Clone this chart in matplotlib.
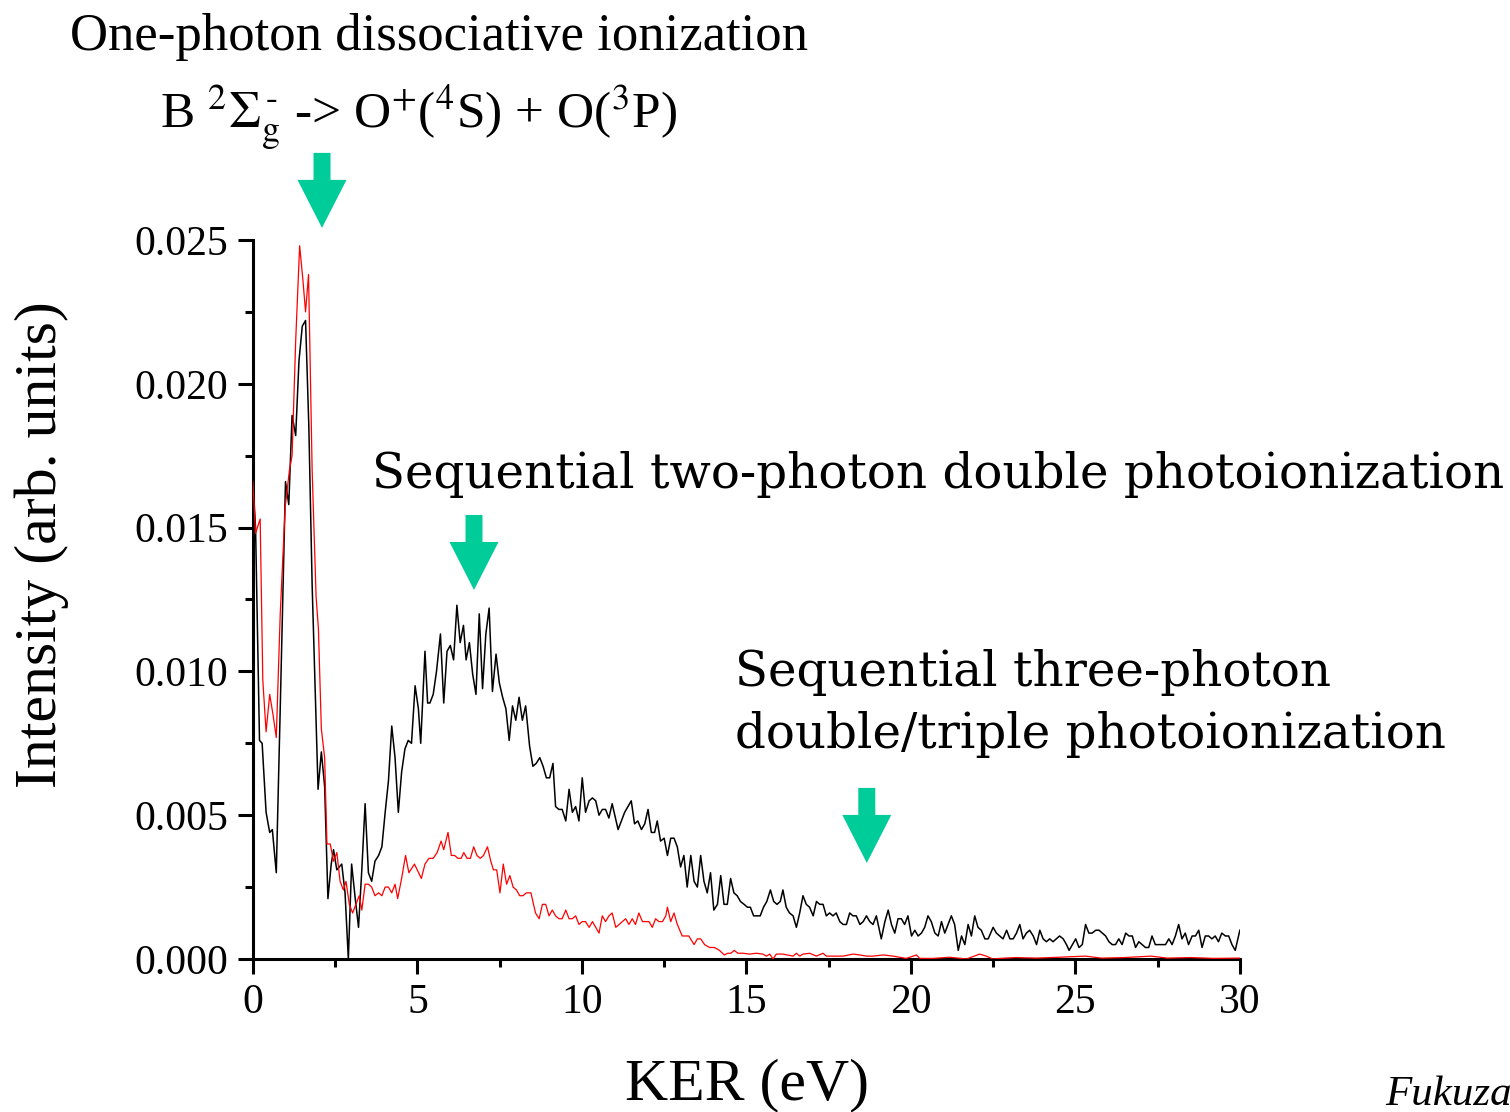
import matplotlib
matplotlib.use('Agg')
import matplotlib.pyplot as plt
import matplotlib.transforms as mtransforms

plt.rcParams['font.family'] = ['Liberation Serif', 'DejaVu Serif']
plt.rcParams['mathtext.fontset'] = 'stix'

# black curve (KER in eV, intensity)
ker_black = [0.00, 0.08, 0.20, 0.28, 0.40, 0.51, 0.59, 0.71, 0.83, 0.99, 1.09, 1.19, 1.30, 1.40, 1.50,
             1.60, 1.70, 1.80, 1.90, 1.98, 2.08, 2.18, 2.28, 2.38, 2.45, 2.55, 2.70, 2.80, 2.90, 3.00,
             3.11, 3.21, 3.31, 3.41, 3.51, 3.61, 3.71, 3.82, 3.92, 4.02, 4.12, 4.22, 4.32, 4.42, 4.52,
             4.62, 4.72, 4.82, 4.93, 5.03, 5.10, 5.23, 5.31, 5.38, 5.48, 5.58, 5.70, 5.80, 5.90, 6.00,
             6.10, 6.20, 6.30, 6.40, 6.48, 6.58, 6.68, 6.78, 6.88, 6.98, 7.08, 7.18, 7.28, 7.39, 7.49,
             7.59, 7.69, 7.79, 7.89, 7.99, 8.09, 8.19, 8.29, 8.41, 8.51, 8.61, 8.72, 8.82, 8.92, 9.02,
             9.12, 9.20, 9.30, 9.40, 9.51, 9.61, 9.71, 9.81, 9.91, 10.01, 10.11, 10.22, 10.32, 10.42, 10.52,
             10.62, 10.72, 10.82, 10.92, 11.10, 11.30, 11.50, 11.60, 11.70, 11.81, 11.91, 12.01, 12.11, 12.21, 12.29,
             12.39, 12.50, 12.60, 12.70, 12.80, 12.90, 13.00, 13.10, 13.20, 13.31, 13.41, 13.51, 13.61, 13.71, 13.81,
             13.91, 14.01, 14.12, 14.22, 14.32, 14.42, 14.52, 14.62, 14.72, 14.82, 14.93, 15.03, 15.12, 15.22, 15.32,
             15.42, 15.52, 15.62, 15.73, 15.83, 15.93, 16.03, 16.11, 16.21, 16.31, 16.42, 16.52, 16.62, 16.72, 16.82,
             16.92, 17.03, 17.13, 17.23, 17.33, 17.43, 17.53, 17.63, 17.73, 17.84, 17.94, 18.04, 18.14, 18.24, 18.34,
             18.45, 18.55, 18.65, 18.75, 18.85, 18.95, 19.10, 19.21, 19.31, 19.41, 19.51, 19.61, 19.71, 19.81, 19.91,
             20.02, 20.12, 20.22, 20.32, 20.42, 20.52, 20.62, 20.73, 20.83, 20.93, 21.03, 21.13, 21.23, 21.33, 21.44,
             21.54, 21.64, 21.74, 21.84, 21.94, 22.04, 22.14, 22.25, 22.35, 22.50, 22.60, 22.70, 22.80, 22.91, 23.01,
             23.11, 23.21, 23.31, 23.41, 23.51, 23.61, 23.72, 23.82, 23.92, 24.02, 24.12, 24.22, 24.32, 24.42, 24.52,
             24.63, 24.73, 24.81, 24.91, 25.01, 25.11, 25.21, 25.31, 25.41, 25.51, 25.62, 25.72, 25.82, 25.92, 26.02,
             26.12, 26.22, 26.32, 26.42, 26.53, 26.63, 26.73, 26.83, 26.93, 27.03, 27.13, 27.23, 27.33, 27.43, 27.54,
             27.64, 27.74, 27.84, 27.94, 28.04, 28.14, 28.24, 28.34, 28.44, 28.55, 28.65, 28.75, 28.85, 28.95, 29.05,
             29.15, 29.25, 29.35, 29.45, 29.56, 29.66, 29.76, 29.86, 30.00]
int_black = [0.0166, 0.0150, 0.0076, 0.0075, 0.0051, 0.0044, 0.0045, 0.0030, 0.0087, 0.0166, 0.0158, 0.0189, 0.0182, 0.0208, 0.0220,
             0.0222, 0.0185, 0.0130, 0.0090, 0.0059, 0.0072, 0.0060, 0.0021, 0.0033, 0.0038, 0.0031, 0.0033, 0.0023, 0.0000, 0.0033,
             0.0021, 0.0011, 0.0031, 0.0054, 0.0030, 0.0027, 0.0034, 0.0036, 0.0039, 0.0051, 0.0062, 0.0081, 0.0070, 0.0051, 0.0065,
             0.0073, 0.0076, 0.0075, 0.0095, 0.0087, 0.0075, 0.0107, 0.0089, 0.0089, 0.0092, 0.0100, 0.0113, 0.0089, 0.0107, 0.0109,
             0.0104, 0.0123, 0.0110, 0.0116, 0.0104, 0.0110, 0.0099, 0.0092, 0.0120, 0.0094, 0.0113, 0.0122, 0.0093, 0.0106, 0.0096,
             0.0091, 0.0087, 0.0076, 0.0088, 0.0083, 0.0091, 0.0083, 0.0088, 0.0074, 0.0067, 0.0068, 0.0070, 0.0067, 0.0063, 0.0063,
             0.0068, 0.0053, 0.0052, 0.0052, 0.0048, 0.0059, 0.0051, 0.0053, 0.0048, 0.0063, 0.0051, 0.0055, 0.0056, 0.0055, 0.0050,
             0.0052, 0.0052, 0.0049, 0.0054, 0.0045, 0.0051, 0.0055, 0.0047, 0.0048, 0.0045, 0.0047, 0.0052, 0.0044, 0.0044, 0.0048,
             0.0041, 0.0042, 0.0036, 0.0042, 0.0042, 0.0039, 0.0032, 0.0036, 0.0025, 0.0036, 0.0027, 0.0025, 0.0036, 0.0027, 0.0023,
             0.0030, 0.0017, 0.0019, 0.0029, 0.0019, 0.0019, 0.0028, 0.0023, 0.0022, 0.0020, 0.0019, 0.0018, 0.0018, 0.0015, 0.0015,
             0.0015, 0.0018, 0.0020, 0.0024, 0.0020, 0.0019, 0.0020, 0.0024, 0.0018, 0.0016, 0.0015, 0.0011, 0.0016, 0.0022, 0.0019,
             0.0018, 0.0015, 0.0020, 0.0019, 0.0019, 0.0015, 0.0016, 0.0015, 0.0016, 0.0013, 0.0012, 0.0012, 0.0016, 0.0015, 0.0015,
             0.0012, 0.0013, 0.0015, 0.0013, 0.0012, 0.0015, 0.0007, 0.0013, 0.0017, 0.0012, 0.0009, 0.0014, 0.0014, 0.0012, 0.0015,
             0.0008, 0.0010, 0.0008, 0.0009, 0.0011, 0.0015, 0.0013, 0.0009, 0.0008, 0.0013, 0.0009, 0.0012, 0.0015, 0.0012, 0.0003,
             0.0008, 0.0005, 0.0012, 0.0008, 0.0015, 0.0011, 0.0010, 0.0007, 0.0007, 0.0011, 0.0009, 0.0008, 0.0007, 0.0010, 0.0007,
             0.0007, 0.0009, 0.0012, 0.0007, 0.0009, 0.0010, 0.0008, 0.0005, 0.0010, 0.0007, 0.0006, 0.0007, 0.0006, 0.0007, 0.0008,
             0.0007, 0.0005, 0.0003, 0.0005, 0.0007, 0.0004, 0.0005, 0.0012, 0.0009, 0.0009, 0.0010, 0.0010, 0.0009, 0.0008, 0.0006,
             0.0005, 0.0005, 0.0007, 0.0005, 0.0009, 0.0008, 0.0008, 0.0004, 0.0006, 0.0005, 0.0004, 0.0004, 0.0008, 0.0005, 0.0005,
             0.0005, 0.0005, 0.0007, 0.0005, 0.0008, 0.0012, 0.0007, 0.0009, 0.0005, 0.0008, 0.0008, 0.0010, 0.0004, 0.0008, 0.0008,
             0.0007, 0.0008, 0.0006, 0.0009, 0.0008, 0.0008, 0.0005, 0.0003, 0.0010]

# red curve
ker_red = [0.00, 0.08, 0.22, 0.30, 0.40, 0.51, 0.61, 0.71, 0.83, 0.98, 1.11, 1.19, 1.30, 1.42, 1.52,
           1.60, 1.69, 1.80, 1.92, 1.99, 2.08, 2.18, 2.25, 2.35, 2.45, 2.55, 2.65, 2.75, 2.83, 2.93,
           3.03, 3.13, 3.23, 3.31, 3.41, 3.51, 3.61, 3.71, 3.82, 3.92, 4.02, 4.12, 4.22, 4.32, 4.40,
           4.52, 4.64, 4.74, 4.91, 5.12, 5.23, 5.35, 5.48, 5.60, 5.72, 5.80, 5.93, 6.03, 6.13, 6.23,
           6.33, 6.41, 6.51, 6.61, 6.71, 6.81, 6.91, 7.01, 7.13, 7.23, 7.31, 7.41, 7.51, 7.61, 7.71,
           7.81, 7.91, 8.01, 8.11, 8.21, 8.31, 8.45, 8.59, 8.70, 8.80, 8.90, 9.00, 9.10, 9.20, 9.30,
           9.40, 9.51, 9.61, 9.71, 9.81, 9.91, 10.01, 10.11, 10.22, 10.32, 10.42, 10.52, 10.62, 10.72, 10.82,
           10.92, 11.03, 11.13, 11.23, 11.33, 11.43, 11.53, 11.63, 11.73, 11.84, 11.94, 12.04, 12.14, 12.24, 12.34,
           12.45, 12.55, 12.60, 12.70, 12.80, 12.90, 13.05, 13.15, 13.25, 13.41, 13.51, 13.61, 13.73, 13.88, 14.03,
           14.18, 14.33, 14.43, 14.53, 14.63, 14.74, 14.89, 15.10, 15.30, 15.50, 15.61, 15.71, 15.81, 15.91, 16.11,
           16.42, 16.52, 16.62, 16.72, 16.92, 17.13, 17.33, 17.43, 17.63, 17.94, 18.24, 18.45, 18.65, 18.85, 19.16,
           19.46, 19.66, 19.86, 20.17, 20.27, 20.67, 21.18, 21.69, 22.09, 22.29, 22.49, 22.70, 23.20, 23.80, 24.50,
           25.30, 25.80, 26.50, 27.30, 27.80, 28.50, 29.20, 30.00]
int_red = [0.0166, 0.0148, 0.0153, 0.0097, 0.0079, 0.0092, 0.0085, 0.0077, 0.0120, 0.0157, 0.0170, 0.0175, 0.0215, 0.0248, 0.0236,
           0.0225, 0.0238, 0.0170, 0.0126, 0.0115, 0.0080, 0.0070, 0.0040, 0.0040, 0.0034, 0.0037, 0.0027, 0.0024, 0.0027, 0.0019,
           0.0016, 0.0019, 0.0022, 0.0017, 0.0026, 0.0026, 0.0025, 0.0022, 0.0023, 0.0022, 0.0025, 0.0025, 0.0023, 0.0026, 0.0021,
           0.0028, 0.0036, 0.0030, 0.0033, 0.0028, 0.0033, 0.0035, 0.0035, 0.0037, 0.0041, 0.0038, 0.0044, 0.0036, 0.0036, 0.0035,
           0.0035, 0.0037, 0.0035, 0.0035, 0.0039, 0.0036, 0.0035, 0.0036, 0.0039, 0.0034, 0.0031, 0.0031, 0.0023, 0.0033, 0.0026,
           0.0029, 0.0025, 0.0024, 0.0022, 0.0022, 0.0023, 0.0023, 0.0016, 0.0014, 0.0019, 0.0019, 0.0015, 0.0017, 0.0015, 0.0014,
           0.0014, 0.0017, 0.0014, 0.0014, 0.0015, 0.0012, 0.0013, 0.0013, 0.0011, 0.0013, 0.0011, 0.0009, 0.0015, 0.0013, 0.0015,
           0.0016, 0.0011, 0.0012, 0.0013, 0.0014, 0.0012, 0.0014, 0.0012, 0.0016, 0.0013, 0.0013, 0.0013, 0.0011, 0.0014, 0.0013,
           0.0013, 0.0015, 0.0018, 0.0013, 0.0016, 0.0012, 0.0008, 0.0008, 0.0008, 0.0005, 0.0007, 0.0007, 0.0005, 0.0004, 0.0004,
           0.0003, 0.00014, 0.0002, 0.0002, 0.0003, 0.0002, 0.0002, 0.00017, 0.0002, 0.00017, 0.0001, 0.00017, 0.0, 0.00017, 0.00017,
           0.0001, 0.0002, 0.0001, 0.00017, 0.0002, 0.0001, 0.0002, 0.0001, 0.0001, 0.0001, 0.00017, 0.00014, 0.0001, 0.0001, 0.00014,
           0.0001, 0.00006, 0.00002, 0.00014, 0.00002, 0.00002, 0.00006, 0.0, 0.00017, 0.0001, 0.0, 0.00002, 0.00005, 0.00003, 0.00006,
           0.0001, 0.00003, 0.00005, 0.0001, 0.00003, 0.00005, 0.00002, 0.00003]

# green arrows: tip position (KER, intensity)
arrow_tips = [(2.10, 0.02542), (6.72, 0.01283), (18.66, 0.00334)]
arrow_color = '#00cc99'

fig = plt.figure(figsize=(15.1, 11.12), dpi=100)
ax = fig.add_axes([0.1675, 0.1376, 0.6536, 0.6466])

ax.plot(ker_black, int_black, color='black', lw=1.1, zorder=2)
ax.plot(ker_red, int_red, color='#ff0000', lw=0.9, zorder=3)

ax.set_xlim(0, 30)
ax.set_ylim(0, 0.025)
ax.set_xticks([0, 5, 10, 15, 20, 25, 30])
ax.set_xticks([2.5, 7.5, 12.5, 17.5, 22.5, 27.5], minor=True)
ax.set_yticks([0, 0.005, 0.010, 0.015, 0.020, 0.025])
ax.set_yticks([0.0025, 0.0075, 0.0125, 0.0175, 0.0225], minor=True)
ax.set_yticklabels(['0.000', '0.005', '0.010', '0.015', '0.020', '0.025'])
ax.tick_params(which='major', direction='out', length=11, width=2.2, labelsize=30, pad=7)
ax.tick_params(which='minor', direction='out', length=6, width=2.2)
for s in ['top', 'right']:
    ax.spines[s].set_visible(False)
for s in ['left', 'bottom']:
    ax.spines[s].set_linewidth(2.2)

# arrow shape in pixels, tip at origin
shape = [(0, 0), (-24.5, 48), (-8.5, 48), (-8.5, 75), (8.5, 75), (8.5, 48), (24.5, 48)]
for tx, ty in arrow_tips:
    tr = mtransforms.Affine2D().scale(1 / 100.0) + fig.dpi_scale_trans + mtransforms.ScaledTranslation(tx, ty, ax.transData)
    ax.fill([p[0] for p in shape], [p[1] for p in shape], color=arrow_color, lw=0,
            transform=tr, clip_on=False, zorder=5)

state_label = r'B $^{2}\Sigma_{\mathrm{g}}^{\,' + '\u2010' + r'}$ -> O$^{+}$($^{4}$S) + O($^{3}$P)'

fig.text(70 / 1510, 1 - 50 / 1112, 'One-photon dissociative ionization', fontsize=38, va='baseline', ha='left')
fig.text(160 / 1510, 1 - 128 / 1112, state_label, fontsize=37, va='baseline', ha='left')
fig.text(372 / 1510, 1 - 488 / 1112, 'Sequential two-photon double photoionization',
         fontsize=34.8, family='DejaVu Serif', va='baseline', ha='left')
fig.text(735 / 1510, 1 - 686 / 1112, 'Sequential three-photon',
         fontsize=34.8, family='DejaVu Serif', va='baseline', ha='left')
fig.text(735 / 1510, 1 - 748 / 1112, 'double/triple photoionization',
         fontsize=34.8, family='DejaVu Serif', va='baseline', ha='left')
fig.text(1385 / 1510, 1 - 1105 / 1112, 'Fukuzawa', fontsize=31, style='italic', va='baseline', ha='left')

fig.text(42 / 1510, 1 - 545 / 1112, 'Intensity (arb. units)', fontsize=43, rotation=90, ha='center', va='center')
fig.text(747 / 1510, 1 - 1085 / 1112, 'KER (eV)', fontsize=43, ha='center', va='center')

fig.savefig('out.png', dpi=100)
